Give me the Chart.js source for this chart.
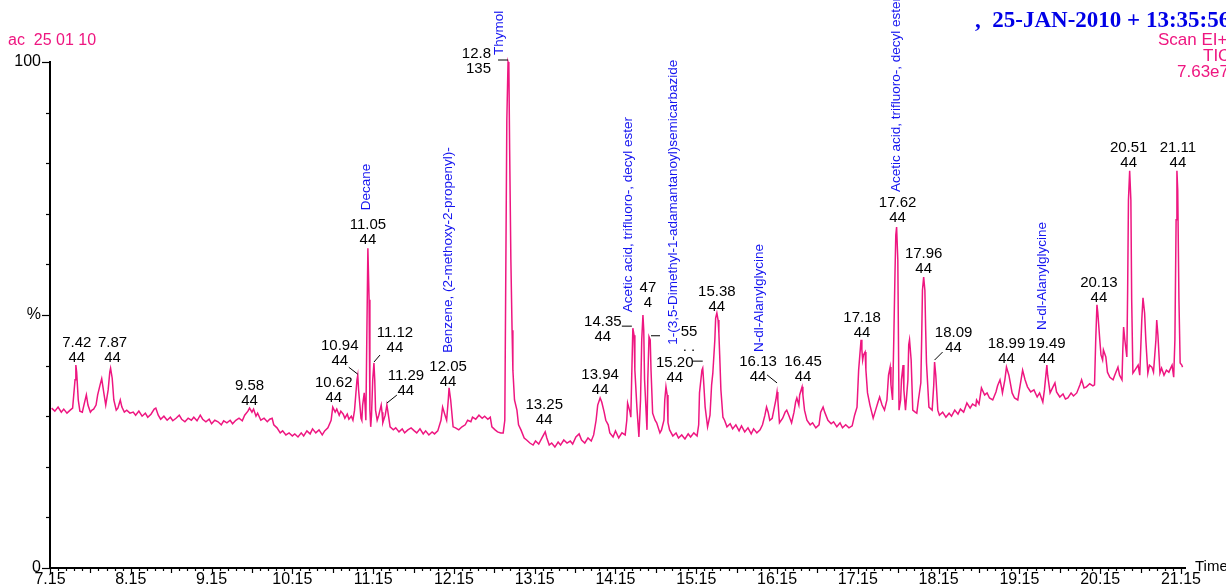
<!DOCTYPE html>
<html>
<head>
<meta charset="utf-8">
<script src="https://cdn.jsdelivr.net/npm/chart.js@4.4.1/dist/chart.umd.min.js"></script>
<style>
  html, body { margin: 0; padding: 0; background: #fff; }
  canvas { display: block; }
</style>
</head>
<body>
<canvas id="tic" width="1226" height="588"></canvas>
<script>
// retention time (min)
var times = [
  7.17,7.21,7.25,7.29,7.32,7.36,7.40,7.43,7.46,7.47,7.48,7.50,7.52,7.55,7.57,7.60,7.62,7.65,7.67,7.69,7.72,7.74,7.77,7.79,7.82,7.84,7.87,7.89,7.90,7.92,7.94,7.97,7.99,8.02,8.04,8.07,8.10,8.14,
  8.18,8.21,8.25,8.29,8.33,8.36,8.40,8.44,8.46,8.49,8.52,8.56,8.60,8.64,8.67,8.71,8.75,8.78,8.82,8.86,8.90,8.93,8.97,9.01,9.04,9.08,9.12,9.15,9.19,9.23,9.27,9.30,9.34,9.38,9.41,9.45,9.49,9.53,9.56,9.60,9.62,9.65,9.67,9.70,9.72,9.76,9.80,9.84,9.87,9.90,9.92,9.96,10.00,10.03,10.07,10.11,10.15,10.18,10.22,
  10.26,10.29,10.33,10.37,10.40,10.44,10.48,10.52,10.55,10.59,10.63,10.65,10.68,10.70,10.73,10.75,10.78,10.80,10.83,10.85,10.88,10.90,10.92,10.95,10.96,10.97,11.00,11.01,11.02,11.04,
  11.05,11.06,11.07,11.085,11.10,11.11,11.12,11.13,11.145,11.16,11.17,11.18,11.20,11.22,11.25,11.26,11.27,11.30,11.32,11.33,11.36,11.40,11.43,11.47,11.51,11.54,11.58,11.62,11.66,11.69,
  11.73,11.77,11.80,11.84,11.88,11.91,11.95,11.99,12.01,12.04,12.06,12.08,12.09,12.11,12.14,12.17,12.21,12.25,12.29,12.32,12.36,12.38,12.42,12.46,12.50,12.53,12.57,12.60,12.62,12.66,
  12.69,12.73,12.76,12.78,12.79,12.805,12.82,12.83,12.84,12.855,12.87,12.88,12.90,12.93,12.95,12.98,13.02,13.05,
  13.09,13.13,13.16,13.20,13.24,13.28,13.30,13.33,13.36,13.40,13.44,13.47,13.51,13.55,13.59,13.62,13.66,13.70,13.73,13.77,13.81,13.85,13.88,13.91,13.93,13.96,13.98,14.01,14.03,14.06,
  14.08,14.12,14.15,14.19,14.23,14.27,14.29,14.30,14.33,14.34,14.35,14.365,14.38,14.39,14.415,14.44,14.46,14.475,14.49,14.50,14.51,14.54,14.55,14.565,14.58,14.59,14.61,14.64,14.66,14.70,
  14.72,14.75,14.76,14.775,14.79,14.80,14.82,14.86,14.90,14.93,14.97,15.01,15.05,15.08,15.12,15.16,15.18,15.19,15.22,15.23,15.24,15.26,15.28,15.29,15.32,15.34,15.355,15.38,15.39,15.405,
  15.42,15.43,15.44,15.455,15.48,15.50,15.53,15.57,15.60,15.64,15.68,15.71,15.75,15.79,15.83,15.86,15.90,15.94,15.97,16.00,16.02,16.04,16.06,16.09,16.11,16.135,16.15,16.16,16.18,16.22,
  16.25,16.27,16.30,16.33,16.36,16.38,16.395,16.42,16.43,16.46,16.47,16.49,16.52,16.56,16.59,16.63,16.67,
  16.69,16.72,16.74,16.78,16.82,16.85,16.89,16.93,16.96,17.00,17.04,17.08,17.11,17.14,17.16,17.19,17.20,17.21,17.22,17.24,17.25,17.27,17.30,17.34,17.37,17.40,17.42,17.45,17.48,17.51,
  17.53,17.55,17.56,17.58,17.595,17.61,17.62,17.63,17.645,17.66,17.68,17.69,17.71,17.72,17.74,17.77,17.78,17.79,17.81,17.83,17.86,17.88,17.90,17.93,17.94,17.95,17.965,17.98,17.99,18.00,
  18.03,18.07,18.09,18.10,18.115,18.14,18.16,18.20,18.24,18.28,18.31,18.35,18.39,18.42,18.46,18.50,18.54,18.57,18.61,18.62,18.65,18.68,18.72,18.75,18.78,18.82,18.86,18.88,18.91,
  18.93,18.94,18.97,18.99,19.02,19.06,19.09,19.13,19.15,19.18,19.19,19.22,19.25,19.29,19.33,19.37,19.40,19.44,19.46,19.49,19.50,19.53,19.56,19.59,19.61,19.65,19.69,19.72,19.75,19.79,
  19.82,19.86,19.90,19.92,19.95,19.98,20.02,20.06,20.08,20.095,20.11,20.12,20.145,20.16,20.18,20.19,20.22,20.24,20.27,20.31,20.33,20.37,20.39,20.42,20.43,20.44,20.455,20.48,20.49,20.50,
  20.515,20.53,20.54,20.555,20.58,20.62,20.64,20.665,20.68,20.70,20.715,20.74,20.76,20.79,20.81,20.84,20.85,20.865,20.89,20.91,20.94,20.97,21.00,21.04,21.06,21.075,21.09,21.10,21.11,21.125,
  21.14,21.16,21.17
];

// TIC intensity, % of 7.63e7
var tic = [
  31.6,31.0,31.8,30.8,31.4,30.6,31.2,31.6,37.2,40.1,38.7,33.2,31.0,30.8,32.2,34.2,32.2,30.8,31.2,31.4,32.2,34.2,36.2,37.4,34.2,32.2,35.2,38.7,39.5,37.5,33.2,31.2,31.6,33.2,31.8,30.8,31.2,30.6,
  30.8,30.2,31.0,30.0,30.6,29.8,30.4,31.4,31.6,30.2,29.4,30.0,29.2,29.8,29.1,29.6,30.2,29.4,28.9,29.6,29.2,29.8,29.1,30.2,29.4,28.9,29.4,28.5,29.2,28.9,28.3,29.1,28.7,29.2,28.5,29.2,29.6,29.1,30.2,31.0,31.6,30.8,31.4,30.0,30.6,29.2,29.6,28.9,29.4,29.6,28.3,27.7,26.7,27.1,26.3,26.7,26.1,26.5,25.9,
  26.7,26.1,27.1,26.5,27.5,26.7,27.3,26.3,27.1,27.7,29.2,31.8,30.8,31.4,30.2,31.0,30.4,29.6,30.4,29.4,30.0,29.2,31.2,37.2,38.1,35.2,29.6,29.2,32.2,34.6,
  32.2,29.2,43.1,63.2,53.0,31.2,27.9,30.2,37.2,40.5,37.2,31.2,29.2,30.2,32.2,30.8,28.7,30.2,32.2,31.2,27.9,27.3,27.7,26.9,27.5,26.7,27.3,27.7,27.1,26.7,
  27.5,26.5,27.1,26.3,26.9,26.5,27.1,29.2,31.8,30.2,29.2,33.2,35.6,33.2,27.9,27.7,27.3,27.9,28.3,29.2,28.9,29.8,29.4,30.2,29.6,30.0,29.4,29.8,27.9,27.3,
  26.9,26.7,26.7,29.2,53.0,88.5,100,99.4,82.6,60.9,47.0,39.1,33.2,31.2,28.3,27.3,25.7,25.3,
  24.7,24.3,25.1,24.5,25.7,26.9,25.7,24.3,24.7,23.9,24.9,24.3,25.3,24.7,25.1,24.5,25.9,26.5,25.3,24.7,25.7,25.1,26.3,29.2,32.2,33.6,32.8,30.8,29.2,28.3,
  26.7,25.9,27.1,25.7,26.7,26.3,29.2,32.6,30.8,29.8,37.2,47.4,46.0,39.1,31.8,25.9,33.2,45.1,50.0,47.0,37.2,27.3,37.2,45.7,45.1,39.1,30.6,29.2,28.7,26.7,
  27.3,29.2,33.2,35.8,34.2,28.7,27.3,26.1,26.7,25.7,26.3,25.5,26.5,25.9,26.7,26.1,28.3,34.6,39.1,39.5,37.2,31.8,29.2,27.9,30.2,36.2,38.5,45.1,49.4,50.4,
  49.0,46.4,42.1,35.2,29.8,29.2,27.9,28.5,27.5,28.3,27.1,28.1,26.9,27.7,26.5,27.5,26.7,27.3,28.3,30.2,31.8,30.8,29.2,29.6,31.2,33.2,34.8,33.2,28.7,29.6,
  30.8,31.2,30.0,28.7,30.8,32.8,33.6,32.2,34.2,35.8,34.2,31.2,29.2,28.3,28.7,27.7,28.3,
  30.8,31.8,30.8,29.2,28.5,28.9,27.9,28.7,27.7,28.3,27.7,28.1,30.2,31.8,39.1,45.1,43.1,41.1,42.1,42.7,39.1,34.6,32.2,29.6,31.2,32.8,33.8,32.2,31.2,33.2,
  38.1,39.7,36.2,33.2,45.1,58.3,65.8,67.4,60.9,31.2,33.2,37.2,40.1,35.2,31.2,37.2,44.1,45.1,41.1,31.2,30.8,30.6,33.2,36.6,45.1,54.9,57.5,54.9,47.0,40.5,
  31.8,31.2,36.2,40.7,38.1,31.2,30.2,30.8,29.8,30.6,30.0,31.2,30.4,31.4,30.8,32.6,31.6,32.4,32.0,33.2,32.4,35.6,34.2,34.6,33.6,33.2,34.8,36.0,37.2,
  35.6,34.6,37.2,39.7,38.1,34.6,33.6,33.2,35.2,38.1,39.1,37.2,35.8,34.8,35.2,33.8,34.6,32.8,35.2,40.1,38.1,34.6,35.6,36.6,34.8,33.8,34.4,33.4,33.6,34.6,
  34.0,34.6,36.2,37.2,35.6,35.8,36.4,36.0,36.2,45.1,52.0,50.6,45.1,42.1,41.1,43.1,41.7,38.7,37.7,37.2,38.1,39.7,38.1,37.2,43.1,47.6,45.1,41.7,54.9,72.7,
  78.5,72.7,53.0,38.5,39.1,40.1,38.1,49.0,53.4,50.4,45.1,38.5,40.1,39.7,38.7,45.1,49.0,46.0,38.5,39.5,38.1,39.1,38.7,40.1,37.7,45.1,68.8,78.5,74.7,53.0,
  40.5,40.1,39.7
];

var xTickLabels = ['7.15','8.15','9.15','10.15','11.15','12.15','13.15','14.15','15.15','16.15','17.15','18.15','19.15','20.15','21.15'];
var yTickValues = [0, 50, 100];
var yTickLabels = ['0', '%', '100'];

// peak annotations: apex time in the trace, retention-time line, base-peak line
var peakApex = [7.47,7.90,9.62,10.65,10.96,11.085,11.16,11.32,12.09,12.82,13.28,13.96,14.365,14.49,14.565,15.23,15.405,16.15,16.46,17.19,17.63,17.965,18.10,18.99,19.49,20.11,20.515,21.10];
var peakRT = ['7.42','7.87','9.58','10.62','10.94','11.05','11.12','11.29','12.05','12.8','13.25','13.94','14.35','47','55','15.20','15.38','16.13','16.45','17.18','17.62','17.96','18.09','18.99','19.49','20.13','20.51','21.11'];
var peakMass = ['44','44','44','44','44','44','44','44','44','135','44','44','44','4','. .','44','44','44','44','44','44','44','44','44','44','44','44','44'];

// library hits
var hitApex = [11.085, 12.09, 12.82, 14.365, 14.775, 16.15, 17.63, 19.49];
var hitNames = ['Decane','Benzene, (2-methoxy-2-propenyl)-','Thymol','Acetic acid, trifluoro-, decyl ester',
  '1-(3,5-Dimethyl-1-adamantanoyl)semicarbazide','N-dl-Alanylglycine','Acetic acid, trifluoro-, decyl ester','N-dl-Alanylglycine'];

// label placement relative to the apex pixel (layout only)
var peakLayout = [
  {dx:1,dy:-7},{dx:2,dy:-10},{dx:0,dy:-7},{dx:1,dy:-9},
  {dx:-18,dy:-14,lead:[-9,-8,0,-1]},{dx:0,dy:-8},
  {dx:21,dy:-15,lead:[6,-8,0,-1]},{dx:19,dy:-14,lead:[10,-10,0,-2]},
  {dx:-1,dy:-6},{dx:-17,dy:7,align:'right',lead:[-10,-2,0,-2]},
  {dx:-1,dy:-12},{dx:0,dy:-8},{dx:-30,dy:9,lead:[-11,-2,-1,-2]},
  {dx:5,dy:-12},{dx:40,dy:10,lead:[2,-1,11,-1]},
  {dx:-28,dy:10,lead:[-10,-7,0,-7]},{dx:0,dy:-6},
  {dx:-19,dy:-15,lead:[-10,-17,0,-9]},{dx:1,dy:-10},{dx:1,dy:-7},{dx:1,dy:-9},{dx:0,dy:-8},
  {dx:19,dy:-14,lead:[8,-10,0,-2]},{dx:0,dy:-8},{dx:0,dy:-6},{dx:2,dy:-7},{dx:-1,dy:-8},{dx:1,dy:-8}
];
var hitLayout = [
  {dx:-2,dy:-38},{dx:-1,dy:-35},{dx:-9,dy:-7},{dx:-5,dy:-16},
  {dx:7,dy:-42},{dx:-18,dy:-40},{dx:0,dy:-35},{dx:-5,dy:-35}
];

var FONT = '"Liberation Sans", Arial, sans-serif';
var PINK = 'rgb(238,22,128)';
var BLUE = '#1414f0';

function nearestIndex(t) {
  var best = 0;
  for (var i = 1; i < times.length; i++) {
    if (Math.abs(times[i] - t) < Math.abs(times[best] - t)) best = i;
  }
  return best;
}

var annotate = {
  id: 'annotate',
  afterDraw: function (chart) {
    var c = chart.ctx, xs = chart.scales.x, ys = chart.scales.y, area = chart.chartArea;
    c.save();
    c.strokeStyle = '#000';
    c.lineWidth = 1.2;
    // x ticks every 0.1 min
    for (var k = 0; k <= 140; k++) {
      var px = Math.round(xs.getPixelForValue(7.15 + k * 0.1)) + 0.5;
      var len = k % 10 === 0 ? 6 : (k % 5 === 0 ? 5 : 3);
      c.beginPath(); c.moveTo(px, area.bottom); c.lineTo(px, area.bottom + len); c.stroke();
    }
    // y ticks every 10 %
    for (var v = 0; v <= 100; v += 10) {
      var py = Math.round(ys.getPixelForValue(v)) + 0.5;
      var l = v % 50 === 0 ? 8 : 4;
      c.beginPath(); c.moveTo(area.left, py); c.lineTo(area.left - l, py); c.stroke();
    }

    // header
    c.textBaseline = 'middle';
    c.textAlign = 'left';
    c.fillStyle = PINK;
    c.font = '16px ' + FONT;
    c.fillText('ac  25 01 10', 8, 41);
    c.font = '17px ' + FONT;
    c.fillText('Scan EI+', 1158, 40);
    c.fillText('TIC', 1203, 56);
    c.fillText('7.63e7', 1177, 72);
    c.fillStyle = '#0000e6';
    c.font = 'bold 23px "Liberation Serif", "Times New Roman", serif';
    c.fillText(',  25-JAN-2010 + 13:35:56', 975, 21);
    c.fillStyle = '#000';
    c.font = '15px ' + FONT;
    c.fillText('Time', 1195, 567);

    // peak labels
    c.font = '15px ' + FONT;
    c.fillStyle = '#000';
    c.lineWidth = 1;
    for (var i = 0; i < peakApex.length; i++) {
      var idx = nearestIndex(peakApex[i]);
      var ax = xs.getPixelForValue(times[idx]);
      var ay = ys.getPixelForValue(tic[idx]);
      var p = peakLayout[i];
      c.textAlign = p.align || 'center';
      c.fillText(peakRT[i], ax + p.dx, ay + p.dy - 15);
      c.fillText(peakMass[i], ax + p.dx, ay + p.dy);
      if (p.lead) {
        c.beginPath();
        c.moveTo(ax + p.lead[0], ay + p.lead[1]);
        c.lineTo(ax + p.lead[2], ay + p.lead[3]);
        c.stroke();
      }
    }

    // compound names, rotated
    c.fillStyle = BLUE;
    c.font = '13.5px ' + FONT;
    c.textAlign = 'left';
    c.textBaseline = 'middle';
    for (var j = 0; j < hitApex.length; j++) {
      var hi = nearestIndex(hitApex[j]);
      var hx = xs.getPixelForValue(times[hi]) + hitLayout[j].dx;
      var hy = ys.getPixelForValue(tic[hi]) + hitLayout[j].dy;
      c.save();
      c.translate(hx, hy);
      c.rotate(-Math.PI / 2);
      c.fillText(hitNames[j], 0, 0);
      c.restore();
    }
    c.restore();
  }
};

var ctx = document.getElementById('tic').getContext('2d');
var chart = new Chart(ctx, {
  type: 'line',
  data: {
    datasets: [{
      label: 'TIC',
      data: times.map(function (t, i) { return { x: t, y: tic[i] }; }),
      borderColor: PINK,
      borderWidth: 1.5,
      pointRadius: 0,
      tension: 0,
      fill: false,
      clip: false
    }]
  },
  options: {
    responsive: false,
    animation: false,
    devicePixelRatio: 1,
    layout: { padding: { top: 62, right: 41, left: 0, bottom: 0 } },
    plugins: { legend: { display: false }, tooltip: { enabled: false } },
    scales: {
      x: {
        type: 'linear',
        min: 7.15,
        max: 21.2,
        afterFit: function (s) { s.height = 20; s.paddingLeft = 0; s.paddingRight = 0; },
        afterBuildTicks: function (s) {
          s.ticks = xTickLabels.map(function (t) { return { value: Number(t) }; });
        },
        ticks: {
          autoSkip: false, maxRotation: 0, minRotation: 0, padding: 0, color: '#000',
          font: { size: 16, family: FONT },
          callback: function (v, i) { return xTickLabels[i]; }
        },
        grid: { drawOnChartArea: false, drawTicks: true, tickLength: 2, tickColor: 'rgba(0,0,0,0)' },
        border: { color: '#000', width: 2 }
      },
      y: {
        min: 0,
        max: 100,
        afterFit: function (s) { s.width = 50; s.paddingTop = 0; s.paddingBottom = 0; },
        afterBuildTicks: function (s) {
          s.ticks = yTickValues.map(function (v) { return { value: v }; });
        },
        ticks: {
          padding: 0, color: '#000',
          font: { size: 16, family: FONT },
          callback: function (v, i) { return yTickLabels[i]; }
        },
        grid: { drawOnChartArea: false, drawTicks: true, tickLength: 9, tickColor: 'rgba(0,0,0,0)' },
        border: { color: '#000', width: 2 }
      }
    }
  },
  plugins: [annotate]
});
</script>
</body>
</html>
